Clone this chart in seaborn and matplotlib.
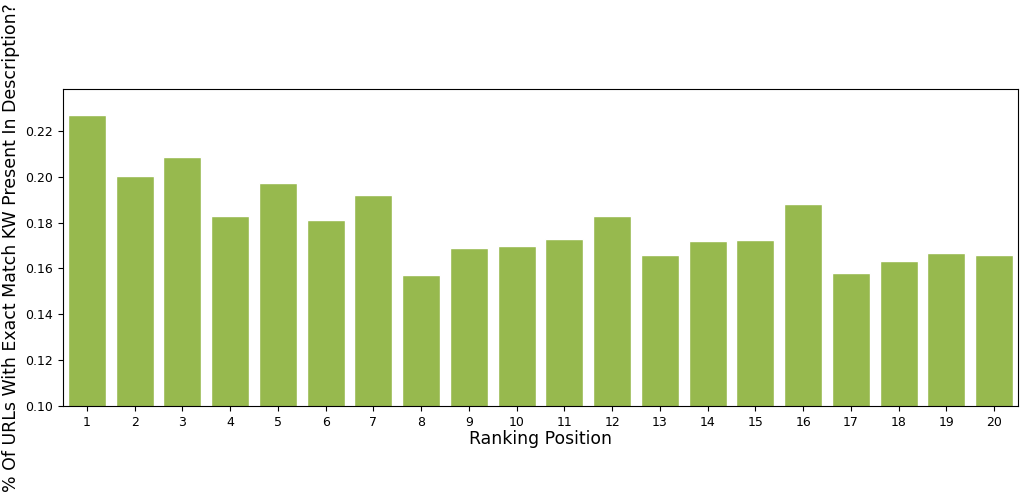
import matplotlib
matplotlib.use("Agg")
import matplotlib.pyplot as plt
import seaborn as sns
import pandas as pd

# ── Data ─────────────────────────────────────────────────────────────────────
positions = list(range(1, 21))
pct_exact_match = [
    0.2269, 0.2002, 0.2087, 0.1829, 0.1973, 0.1809, 0.1922, 0.1573, 0.1689, 0.1698,
    0.1727, 0.1827, 0.1657, 0.1718, 0.1724, 0.1880, 0.1581, 0.1632, 0.1669, 0.1657,
]

BAR_COLOR = "#97b94e"

df = pd.DataFrame({"position": positions, "pct": pct_exact_match})

fig = plt.figure(figsize=(10.24, 4.95), dpi=100)
ax = fig.add_axes([63 / 1024, 1 - 406 / 495, (1018 - 63) / 1024, (406 - 89) / 495])

sns.barplot(data=df, x="position", y="pct", color=BAR_COLOR, saturation=1,
            edgecolor="white", linewidth=1, ax=ax)

ax.set_ylim(0.10, max(pct_exact_match) * 1.05)
ax.set_xlabel("Ranking Position", fontsize=12.4, labelpad=1)
ax.set_ylabel("% Of URLs With Exact Match KW Present In Description?", fontsize=12.5)
ax.tick_params(axis="both", labelsize=9)

fig.savefig("out.png", dpi=100)
plt.close(fig)
